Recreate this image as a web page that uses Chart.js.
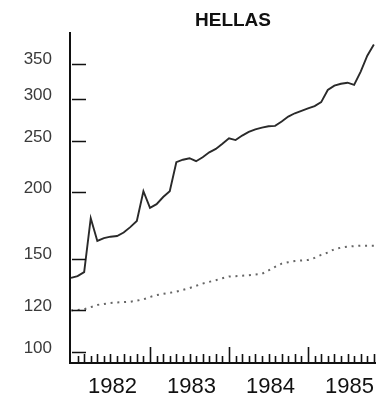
<!DOCTYPE html>
<html>
<head>
<meta charset="utf-8">
<title>HELLAS</title>
<script src="https://cdn.jsdelivr.net/npm/chart.js@4/dist/chart.umd.min.js"></script>
<style>
    html, body { margin: 0; padding: 0; background: #fff; overflow: hidden; }
    canvas { display: block; background: #fff; }
</style>
</head>
<body>
<canvas id="myChart" width="383" height="401"></canvas>
<script>
// x ekseni: 1982 Ocak'tan itibaren ay sayisi
const startYear = 1982;
const years = [1982, 1983, 1984, 1985];
const yTicks = [100, 120, 150, 200, 250, 300, 350];

// ust seri (duz cizgi), aylik degerler
const upperSeries = [138, 139, 141.5, 178.8, 162, 164, 165, 165.5, 168, 172, 176.6, 201,
    187, 190, 196, 201, 228, 230.5, 232, 229, 233, 238, 241.5, 247,
    253, 251, 256, 260, 263, 265, 266.5, 267, 272, 278, 282, 285,
    288, 291, 296, 312, 318, 320.5, 322, 319, 338, 362, 380];

// alt seri (noktali cizgi), aylik degerler
const lowerSeries = [119.8, 120, 120.4, 121.5, 122.7, 123.2, 123.7, 124, 124.2, 124.4, 125, 125.7,
    127, 128, 128.7, 129.3, 130, 131, 132, 133.3, 134.6, 135.6, 136.6, 137.8,
    138.8, 139, 139.3, 139.6, 140, 140.4, 142.5, 144.8, 146.8, 147.7, 148.4, 148.8,
    149.1, 150.5, 152.5, 154, 156.3, 157.3, 158, 158.4, 158.7, 158.7, 158.7];

const FONT = '"Liberation Sans", Arial, sans-serif';

// eksen icine dogru kisa cizgiler ve baslik
const axisMarks = {
    id: 'axisMarks',
    afterDatasetsDraw(chart) {
        const { ctx, chartArea, scales: { x, y } } = chart;
        ctx.save();
        ctx.strokeStyle = '#111';
        ctx.lineWidth = 1.6;
        ctx.beginPath();
        yTicks.forEach(v => {
            const py = Math.round(y.getPixelForValue(v)) + 0.5;
            ctx.moveTo(chartArea.left + 2, py);
            ctx.lineTo(chartArea.left + 16, py);
        });
        for (let m = 1; m <= x.max; m++) {
            const px = Math.round(x.getPixelForValue(m)) + 0.5;
            const len = m % 12 === 0 ? 16 : (m % 2 ? 7 : 9);
            ctx.moveTo(px, chartArea.bottom);
            ctx.lineTo(px, chartArea.bottom - len);
        }
        ctx.stroke();

        ctx.fillStyle = '#111';
        ctx.font = 'bold 19px ' + FONT;
        ctx.textAlign = 'center';
        ctx.textBaseline = 'middle';
        ctx.fillText('HELLAS', chartArea.left + 163, 21);
        ctx.restore();
    }
};

const ctx = document.getElementById('myChart').getContext('2d');

const chart = new Chart(ctx, {
    type: 'line',
    data: {
        datasets: [
            {
                data: upperSeries.map((v, i) => ({ x: i, y: v })),
                borderColor: '#2a2a2a',
                borderWidth: 1.9,
                pointRadius: 0,
                tension: 0
            },
            {
                data: lowerSeries.map((v, i) => ({ x: i, y: v })),
                borderColor: '#666',
                borderWidth: 2,
                borderDash: [2, 4.75],
                pointRadius: 0,
                tension: 0
            }
        ]
    },
    options: {
        responsive: false,
        animation: false,
        devicePixelRatio: 1,
        layout: { padding: { top: 33, right: 0, left: 0, bottom: 0 } },
        plugins: {
            legend: { display: false },
            tooltip: { enabled: false },
            title: { display: false }
        },
        scales: {
            x: {
                type: 'linear',
                min: -0.15,
                max: 46.25,
                grid: { display: false, drawTicks: false },
                border: { display: true, color: '#111', width: 2 },
                afterBuildTicks: scale => {
                    scale.ticks = years.map((yr, i) => ({ value: i * 12 + 6 }));
                },
                afterFit: scale => { scale.height = 38; },
                ticks: {
                    autoSkip: false,
                    maxRotation: 0,
                    padding: 11,
                    labelOffset: 2,
                    color: '#111',
                    font: { family: FONT, size: 22 },
                    callback: v => String(startYear + Math.floor(v / 12))
                }
            },
            y: {
                type: 'logarithmic',
                min: 95.34,
                max: 399.6,
                grid: { display: false, drawTicks: false },
                border: { display: true, color: '#111', width: 2 },
                afterBuildTicks: scale => {
                    scale.ticks = yTicks.map(v => ({ value: v }));
                },
                afterFit: scale => { scale.width = 70; },
                ticks: {
                    padding: 18,
                    labelOffset: -4,
                    color: '#3a3a3a',
                    font: { family: FONT, size: 17 },
                    callback: v => String(v)
                }
            }
        }
    },
    plugins: [axisMarks]
});
</script>
</body>
</html>
